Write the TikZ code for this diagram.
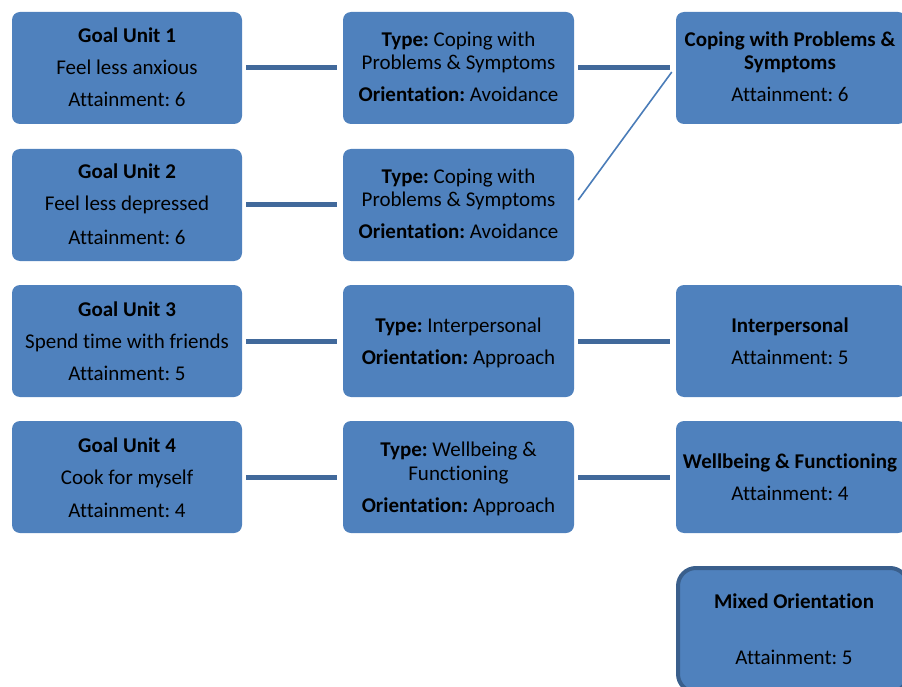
\documentclass[tikz,border=0pt]{standalone}
\usepackage{fontspec}
\setmainfont[RawFeature={-liga}]{Carlito}
\frenchspacing
\definecolor{boxblue}{HTML}{4F81BD}
\definecolor{linkblue}{HTML}{41699B}
\definecolor{thinblue}{HTML}{4A7CB8}
\definecolor{edgeblue}{HTML}{3A5F8C}
\tikzset{
  card/.style={fill=boxblue, draw=none, rounded corners=8pt, inner sep=0pt},
  mixedcard/.style={fill=boxblue, draw=edgeblue, line width=4pt, rounded corners=18pt, inner sep=0pt},
  txt/.style={anchor=base, inner sep=0pt, font=\fontsize{21}{25}\selectfont, text=black},
  link/.style={draw=linkblue, line width=5pt},
  thinlink/.style={draw=thinblue, line width=1.6pt}
}
\begin{document}
\begin{tikzpicture}[x=1pt,y=-1pt]
\useasboundingbox (0,0) rectangle (902,687);
\clip (0,0) rectangle (902,687);
% left column
\node[card, minimum width=230pt, minimum height=112pt] (l1) at (127,68) {};
\node[card, minimum width=230pt, minimum height=112pt] (l2) at (127,205) {};
\node[card, minimum width=230pt, minimum height=112pt] (l3) at (127,341) {};
\node[card, minimum width=230pt, minimum height=112pt] (l4) at (127,477) {};
% middle column
\node[card, minimum width=231pt, minimum height=112pt] (m1) at (458.5,68) {};
\node[card, minimum width=231pt, minimum height=112pt] (m2) at (458.5,205) {};
\node[card, minimum width=231pt, minimum height=112pt] (m3) at (458.5,341) {};
\node[card, minimum width=231pt, minimum height=112pt] (m4) at (458.5,477) {};
% right column
\node[card, minimum width=230pt, minimum height=112pt] (r1) at (791,68) {};
\node[card, minimum width=230pt, minimum height=112pt] (r3) at (791,341) {};
\node[card, minimum width=230pt, minimum height=112pt] (r4) at (791,477) {};
\node[mixedcard, minimum width=230pt, minimum height=124pt] (mx) at (793,630) {};

% texts left
\node[txt] (l1a) at (127,43) {\textbf{Goal Unit 1}};
\node[txt] (l1b) at (127,75) {Feel less anxious};
\node[txt] (l1c) at (127,107) {Attainment: 6};
\node[txt] (l2a) at (127,179) {\textbf{Goal Unit 2}};
\node[txt] (l2b) at (127,211) {Feel less depressed};
\node[txt] (l2c) at (127,244) {Attainment: 6};
\node[txt] (l3a) at (127,316) {\textbf{Goal Unit 3}};
\node[txt] (l3b) at (127,348) {Spend time with friends};
\node[txt] (l3c) at (127,380) {Attainment: 5};
\node[txt] (l4a) at (127,452) {\textbf{Goal Unit 4}};
\node[txt] (l4b) at (127,484) {Cook for myself};
\node[txt] (l4c) at (127,517) {Attainment: 4};
% texts middle
\node[txt] (m1a) at (458.5,47) {\textbf{Type:} Coping with};
\node[txt] (m1b) at (458.5,70) {Problems \& Symptoms};
\node[txt] (m1c) at (458.5,102) {\textbf{Orientation:} Avoidance};
\node[txt] (m2a) at (458.5,184) {\textbf{Type:} Coping with};
\node[txt] (m2b) at (458.5,207) {Problems \& Symptoms};
\node[txt] (m2c) at (458.5,239) {\textbf{Orientation:} Avoidance};
\node[txt] (m3a) at (458.5,332) {\textbf{Type:} Interpersonal};
\node[txt] (m3b) at (458.5,364) {\textbf{Orientation:} Approach};
\node[txt] (m4a) at (458.5,456) {\textbf{Type:} Wellbeing \&};
\node[txt] (m4b) at (458.5,480) {Functioning};
\node[txt] (m4c) at (458.5,512) {\textbf{Orientation:} Approach};
% texts right
\node[txt] (r1a) at (790,47) {\textbf{Coping with Problems \&}};
\node[txt] (r1b) at (790,70) {\textbf{Symptoms}};
\node[txt] (r1c) at (790,102) {Attainment: 6};
\node[txt] (r3a) at (790,332) {\textbf{Interpersonal}};
\node[txt] (r3b) at (790,364) {Attainment: 5};
\node[txt] (r4a) at (790,468) {\textbf{Wellbeing \& Functioning}};
\node[txt] (r4b) at (790,500) {Attainment: 4};
\node[txt] (mxa) at (794,608) {\textbf{Mixed Orientation}};
\node[txt] (mxb) at (794,664) {Attainment: 5};

% connectors
\draw[link] ([xshift=4pt]l1.east) -- ([xshift=-6pt]m1.west);
\draw[link] ([xshift=4pt]l2.east) -- ([xshift=-6pt]m2.west);
\draw[link] ([xshift=4pt]l3.east) -- ([xshift=-6pt]m3.west);
\draw[link] ([xshift=4pt]l4.east) -- ([xshift=-6pt]m4.west);
\draw[link] ([xshift=4pt]m1.east) -- ([xshift=-6pt]r1.west);
\draw[link] ([xshift=4pt]m3.east) -- ([xshift=-6pt]r3.west);
\draw[link] ([xshift=4pt]m4.east) -- ([xshift=-6pt]r4.west);
\draw[thinlink] ([xshift=4pt,yshift=5pt]m2.east) -- ([xshift=-4pt,yshift=-4pt]r1.west);
\end{tikzpicture}
\end{document}
